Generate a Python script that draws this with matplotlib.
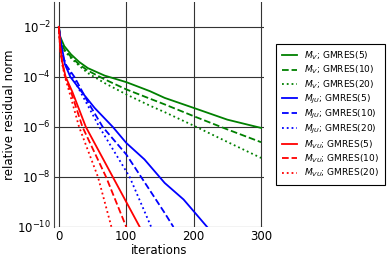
import numpy as np
from matplotlib import pyplot as plt

# iterations and log10 of residual
it_mv = [0, 2, 8, 18, 30, 43, 68, 100, 135, 157, 200, 250, 300]
mv5 = [-2.0, -2.4, -2.77, -3.1, -3.4, -3.65, -3.95, -4.21, -4.57, -4.84, -5.24, -5.71, -6.04]
mv10 = [-2.0, -2.5, -2.9, -3.2, -3.5, -3.75, -4.1, -4.5, -4.87, -5.1, -5.57, -6.1, -6.61]
mv20 = [-2.0, -2.55, -2.95, -3.25, -3.55, -3.85, -4.25, -4.7, -5.15, -5.41, -5.95, -6.6, -7.24]

it_mju5 = [0, 3, 5.5, 9, 17, 33, 53, 80, 100, 127, 157, 185, 200, 220]
mju5 = [-2.0, -2.6, -2.97, -3.5, -4.0, -4.57, -5.24, -6.0, -6.64, -7.3, -8.24, -8.9, -9.37, -10.0]
it_mju10 = [0, 3, 10, 23, 43, 65, 100, 122, 157, 170]
mju10 = [-2.0, -2.9, -3.5, -4.0, -5.0, -6.0, -7.1, -8.0, -9.44, -10.0]
it_mju20 = [0, 3, 10, 20, 60, 105, 137]
mju20 = [-2.0, -2.9, -3.5, -4.0, -6.0, -8.0, -10.0]

it_mvu5 = [0, 2, 5, 10, 20, 40, 80, 120]
mvu5 = [-2.0, -2.8, -3.4, -4.0, -4.6, -6.0, -8.0, -10.0]
it_mvu10 = [0, 2, 5, 9.5, 18, 35, 70, 100]
mvu10 = [-2.0, -2.85, -3.45, -4.0, -4.6, -6.0, -8.0, -10.0]
it_mvu20 = [0, 2, 5, 9, 16, 30, 58, 78]
mvu20 = [-2.0, -2.9, -3.5, -4.0, -4.65, -6.0, -8.0, -10.0]

series = [
    (it_mv, mv5, 'green', '-', r'$M_V$; GMRES(5)'),
    (it_mv, mv10, 'green', '--', r'$M_V$; GMRES(10)'),
    (it_mv, mv20, 'green', ':', r'$M_V$; GMRES(20)'),
    (it_mju5, mju5, 'blue', '-', r'$M_{JU}$; GMRES(5)'),
    (it_mju10, mju10, 'blue', '--', r'$M_{JU}$; GMRES(10)'),
    (it_mju20, mju20, 'blue', ':', r'$M_{JU}$; GMRES(20)'),
    (it_mvu5, mvu5, 'red', '-', r'$M_{VU}$; GMRES(5)'),
    (it_mvu10, mvu10, 'red', '--', r'$M_{VU}$; GMRES(10)'),
    (it_mvu20, mvu20, 'red', ':', r'$M_{VU}$; GMRES(20)'),
]

fig = plt.figure(figsize=(3.9, 2.6), dpi=100)
ax = fig.add_axes([0.138, 0.127, 0.54, 0.866])
for x, y, c, ls, lab in series:
    ax.semilogy(x, 10.0 ** np.array(y), color=c, linestyle=ls, linewidth=1.3, label=lab)

ax.set_xlim(-7.5, 305)
ax.set_ylim(1e-10, 1e-1)
ax.set_yticks([1e-2, 1e-4, 1e-6, 1e-8, 1e-10])
ax.set_xticks([0, 100, 200, 300])
ax.minorticks_off()
ax.grid(True, color='#333333', linewidth=0.8)
ax.tick_params(length=0, labelsize=8.5, pad=2)
for s in ['top', 'right', 'bottom']:
    ax.spines[s].set_visible(False)
ax.spines['left'].set_color('#444444')
ax.set_xlabel('iterations', fontsize=8.5, labelpad=1)
ax.set_ylabel('relative residual norm', fontsize=8.5, labelpad=1)

leg = fig.legend(loc='center left', bbox_to_anchor=(0.697, 0.56), fontsize=6.5,
                 handlelength=1.7, handletextpad=0.8, fancybox=False, edgecolor='black',
                 framealpha=1, labelspacing=0.22, borderpad=0.6)
leg.get_frame().set_linewidth(0.8)

fig.savefig('out.png', dpi=100)
